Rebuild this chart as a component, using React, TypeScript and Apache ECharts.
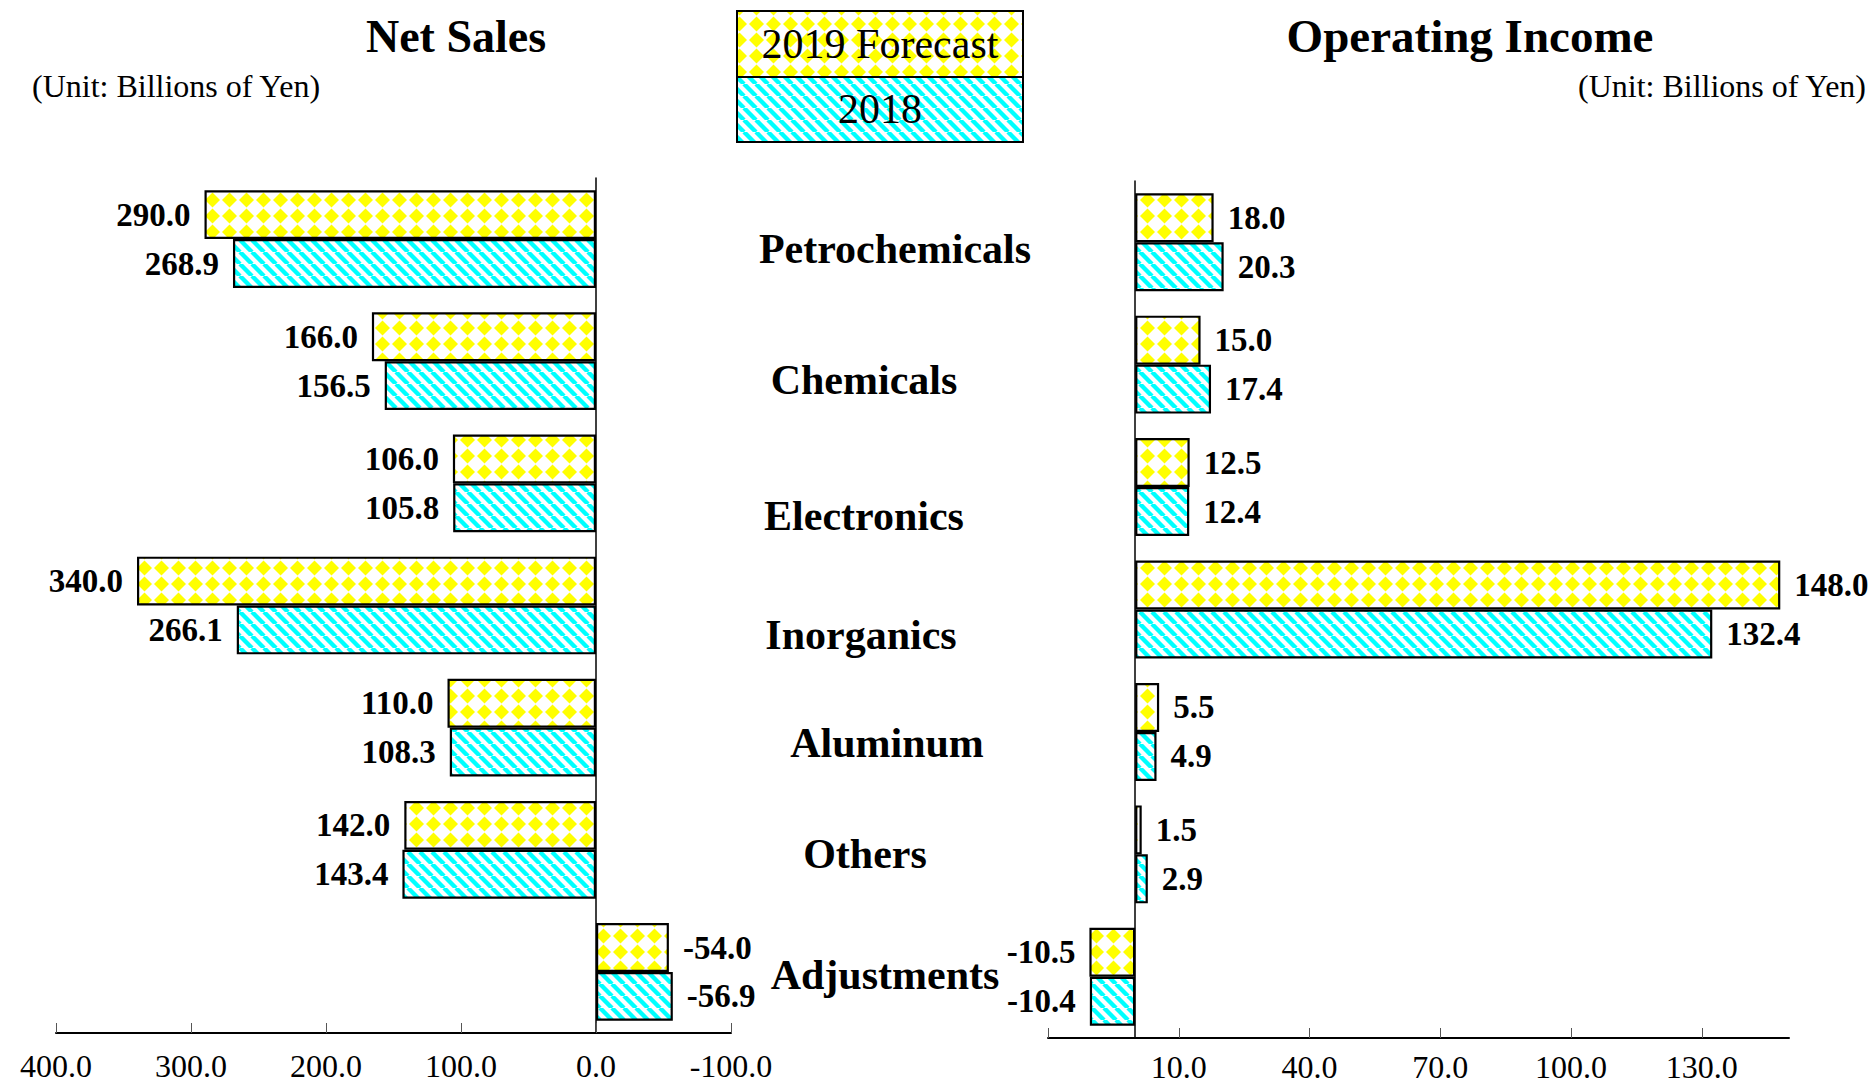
import React, { useEffect, useRef } from 'react';
import * as echarts from 'echarts';

// ---------- data ----------
const categories = ['Petrochemicals', 'Chemicals', 'Electronics', 'Inorganics', 'Aluminum', 'Others', 'Adjustments'];
const seriesNames = ['2019 Forecast', '2018'];
const salesForecast2019 = [290.0, 166.0, 106.0, 340.0, 110.0, 142.0, -54.0];
const sales2018 = [268.9, 156.5, 105.8, 266.1, 108.3, 143.4, -56.9];
const incomeForecast2019 = [18.0, 15.0, 12.5, 148.0, 5.5, 1.5, -10.5];
const income2018 = [20.3, 17.4, 12.4, 132.4, 4.9, 2.9, -10.4];
const incomeTickValues = [-20, 10, 40, 70, 100, 130];
const incomeLabelValues = [10, 40, 70, 100, 130];

// ---------- layout (not data) ----------
const catLabelX = [895, 864, 864, 861, 887, 865, 885];
const catLabelDy = [10, 19, 33, 29, 15, 4, 3];

const SERIF = 'Liberation Serif';

function makeDiamondPattern() {
  const w = 17, h = 16;
  const c = document.createElement('canvas');
  c.width = w; c.height = h;
  const g = c.getContext('2d')!;
  g.fillStyle = '#ffffff';
  g.fillRect(0, 0, w, h);
  g.fillStyle = '#FFFF00';
  g.beginPath();
  g.moveTo(8.5, 0.5);
  g.lineTo(16, 8);
  g.lineTo(8.5, 15.5);
  g.lineTo(1, 8);
  g.closePath();
  g.fill();
  return { image: c.toDataURL(), repeat: 'repeat', imageWidth: w, imageHeight: h };
}

function makeStripePattern() {
  const s = 12;
  const c = document.createElement('canvas');
  c.width = s; c.height = s;
  const g = c.getContext('2d')!;
  g.fillStyle = '#ffffff';
  g.fillRect(0, 0, s, s);
  g.strokeStyle = '#00FFFF';
  g.lineWidth = 4.4;
  for (const k of [-s, 0, s]) {
    g.beginPath();
    g.moveTo(k, 0);
    g.lineTo(k + s, s);
    g.stroke();
  }
  return { image: c.toDataURL(), repeat: 'repeat', imageWidth: s, imageHeight: s };
}

export default function App() {
  const ref = useRef<HTMLDivElement>(null);

  useEffect(() => {
    if (!ref.current) return;
    const chart = echarts.init(ref.current, undefined, { renderer: 'svg' });
    const yellow = makeDiamondPattern();
    const cyan = makeStripePattern();

    const labelStyle = {
      show: true,
      distance: 14,
      fontFamily: SERIF,
      fontWeight: 'bold',
      fontSize: 33,
      color: '#000',
      formatter: (p: any) => Number(p.value).toFixed(1),
    };

    const toItems = (vals: number[], posSide: string, negSide: string) =>
      vals.map((v) => ({ value: v, label: { position: v >= 0 ? posSide : negSide } }));

    const barBase = (fill: any) => ({
      type: 'bar',
      barGap: '0%',
      barCategoryGap: '20%',
      itemStyle: { color: fill, borderColor: '#000', borderWidth: 2.2 },
      label: labelStyle,
    });

    const axisLabelStyle = {
      fontFamily: SERIF,
      fontSize: 32,
      color: '#000',
      formatter: (v: number) => v.toFixed(1),
    };

    const staticGraphics: any[] = [
      {
        id: 't-net', type: 'text', x: 456, y: 36,
        style: { text: 'Net Sales', font: `bold 46px "${SERIF}"`, fill: '#000', align: 'center', verticalAlign: 'middle' },
      },
      {
        id: 'u-left', type: 'text', x: 32, y: 86,
        style: { text: '(Unit: Billions of Yen)', font: `32px "${SERIF}"`, fill: '#000', align: 'left', verticalAlign: 'middle' },
      },
      {
        id: 't-op', type: 'text', x: 1470, y: 36,
        style: { text: 'Operating Income', font: `bold 47px "${SERIF}"`, fill: '#000', align: 'center', verticalAlign: 'middle' },
      },
      {
        id: 'u-right', type: 'text', x: 1866, y: 86,
        style: { text: '(Unit: Billions of Yen)', font: `32px "${SERIF}"`, fill: '#000', align: 'right', verticalAlign: 'middle' },
      },
      {
        id: 'lg-r1', type: 'rect', shape: { x: 737, y: 11, width: 286, height: 66 },
        style: { fill: yellow, stroke: '#000', lineWidth: 2 },
      },
      {
        id: 'lg-r2', type: 'rect', shape: { x: 737, y: 77, width: 286, height: 65 },
        style: { fill: cyan, stroke: '#000', lineWidth: 2 },
      },
      {
        id: 'lg-t1', type: 'text', x: 880, y: 44,
        style: { text: seriesNames[0], font: `42px "${SERIF}"`, fill: '#000', align: 'center', verticalAlign: 'middle' },
      },
      {
        id: 'lg-t2', type: 'text', x: 880, y: 109,
        style: { text: seriesNames[1], font: `42px "${SERIF}"`, fill: '#000', align: 'center', verticalAlign: 'middle' },
      },
    ];

    chart.setOption({
      animation: false,
      backgroundColor: '#ffffff',
      grid: [
        { left: 56, top: 178, width: 675, height: 855, containLabel: false, outerBoundsMode: 'none' },
        { left: 1048, top: 181, width: 741, height: 857, containLabel: false, outerBoundsMode: 'none' },
      ],
      xAxis: [
        {
          gridIndex: 0,
          type: 'value',
          min: -100,
          max: 400,
          interval: 100,
          inverse: true,
          axisLine: { show: true, onZero: false, lineStyle: { color: '#000', width: 2 } },
          axisTick: { show: true, inside: true, length: 10, lineStyle: { color: '#555', width: 1 } },
          axisLabel: { ...axisLabelStyle, margin: 17, showMinLabel: true, showMaxLabel: true },
          splitLine: { show: false },
        },
        {
          gridIndex: 1,
          type: 'value',
          min: -20,
          max: 150,
          axisLine: { show: true, onZero: false, lineStyle: { color: '#000', width: 2 } },
          axisTick: { show: true, inside: true, length: 10, customValues: incomeTickValues, lineStyle: { color: '#555', width: 1 } },
          axisLabel: { ...axisLabelStyle, margin: 13, customValues: incomeLabelValues },
          splitLine: { show: false },
        },
      ],
      yAxis: [
        {
          gridIndex: 0,
          type: 'category',
          data: categories,
          inverse: true,
          axisLine: { show: true, onZero: true, lineStyle: { color: '#000', width: 1.5 } },
          axisTick: { show: false },
          axisLabel: { show: false },
        },
        {
          gridIndex: 1,
          type: 'category',
          data: categories,
          inverse: true,
          axisLine: { show: true, onZero: true, lineStyle: { color: '#000', width: 1.5 } },
          axisTick: { show: false },
          axisLabel: { show: false },
        },
      ],
      series: [
        { ...barBase(yellow), name: seriesNames[0], xAxisIndex: 0, yAxisIndex: 0, data: toItems(salesForecast2019, 'left', 'right') },
        { ...barBase(cyan), name: seriesNames[1], xAxisIndex: 0, yAxisIndex: 0, data: toItems(sales2018, 'left', 'right') },
        { ...barBase(yellow), name: seriesNames[0], xAxisIndex: 1, yAxisIndex: 1, data: toItems(incomeForecast2019, 'right', 'left') },
        { ...barBase(cyan), name: seriesNames[1], xAxisIndex: 1, yAxisIndex: 1, data: toItems(income2018, 'right', 'left') },
      ],
      graphic: staticGraphics,
    });

    const catGraphics = categories.map((c, i) => {
      const y = chart.convertToPixel({ yAxisIndex: 0 } as any, c) as unknown as number;
      return {
        id: 'cat-' + i,
        type: 'text',
        x: catLabelX[i],
        y: y + catLabelDy[i],
        style: { text: c, font: `bold 42px "${SERIF}"`, fill: '#000', align: 'center', verticalAlign: 'middle' },
      };
    });
    chart.setOption({ graphic: [...staticGraphics, ...catGraphics] });

    return () => chart.dispose();
  }, []);

  return <div ref={ref} style={{ position: 'fixed', left: 0, top: 0, width: 1872, height: 1087 }} />;
}
